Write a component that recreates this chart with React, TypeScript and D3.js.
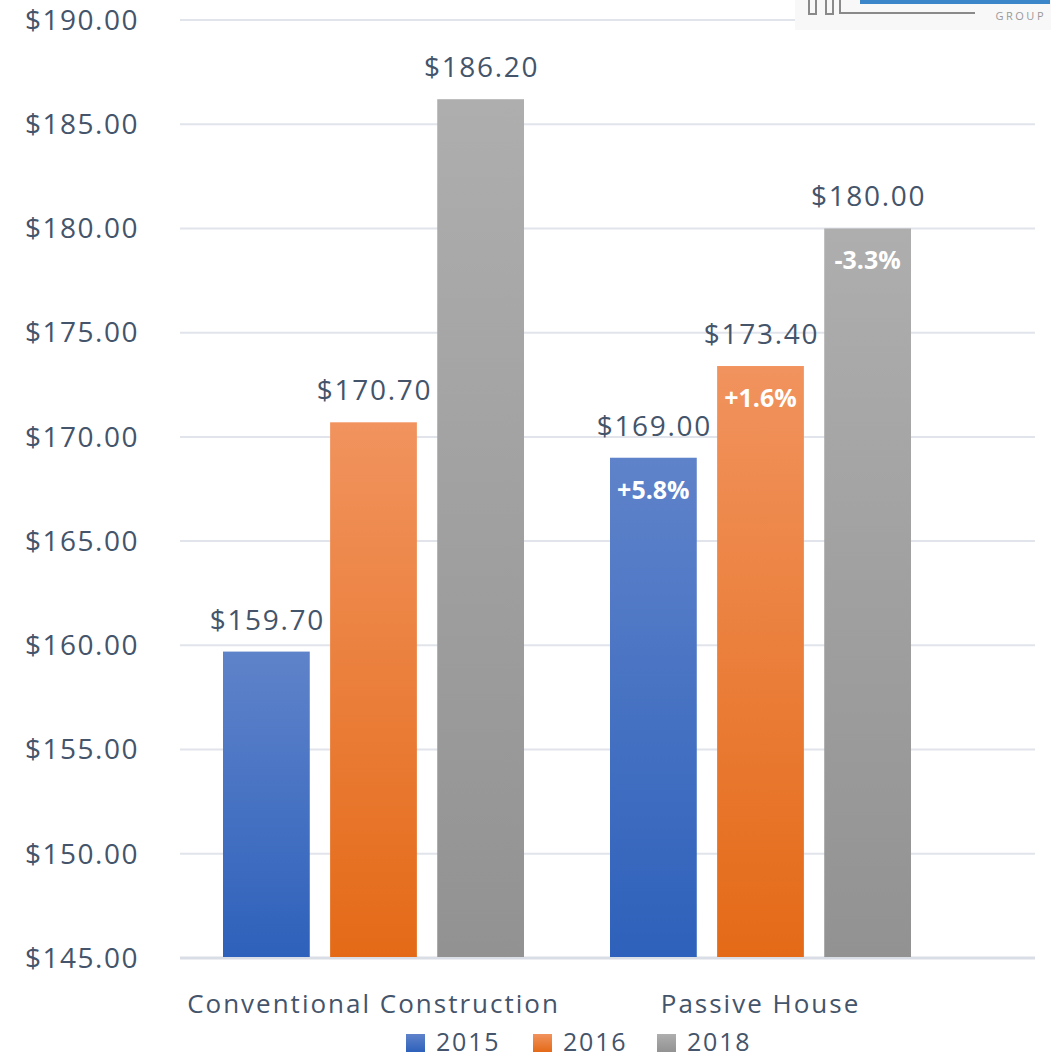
import React, { useRef, useEffect } from "react";
import * as d3 from "d3";

// chart data
const categories = ["Conventional Construction", "Passive House"];
const years = ["2015", "2016", "2018"];
const values2015 = [159.7, 169.0];
const values2016 = [170.7, 173.4];
const values2018 = [186.2, 180.0];
const changes2015 = ["", "+5.8%"];
const changes2016 = ["", "+1.6%"];
const changes2018 = ["", "-3.3%"];
const yTicks = [145, 150, 155, 160, 165, 170, 175, 180, 185, 190];

const seriesValues = [values2015, values2016, values2018];
const seriesChanges = [changes2015, changes2016, changes2018];
const colorsTop = ["#5f83ca", "#f1935e", "#aeaeae"];
const colorsBottom = ["#2e61bb", "#e46a17", "#929292"];

const FONT = "'Open Sans', 'Noto Sans', sans-serif";
const TEXT = "#44546a";

const App = () => {
    const ref = useRef<SVGSVGElement>(null);

    useEffect(() => {
        const svg = d3.select(ref.current);
        svg.selectAll("*").remove();

        const width = 1051;
        const height = 1058;
        const plot = { left: 180, right: 1035, top: 20, bottom: 958 };

        svg.attr("width", width).attr("height", height).style("background", "#fff");

        const defs = svg.append("defs");
        years.forEach((yr, i) => {
            const g = defs.append("linearGradient")
                .attr("id", `grad-${yr}`)
                .attr("x1", 0).attr("y1", 0).attr("x2", 0).attr("y2", 1);
            g.append("stop").attr("offset", "0%").attr("stop-color", colorsTop[i]);
            g.append("stop").attr("offset", "100%").attr("stop-color", colorsBottom[i]);
        });

        const y = d3.scaleLinear().domain([145, 190]).range([plot.bottom, plot.top]);
        const x0 = d3.scaleBand().domain(categories).range([180, 954]);
        const x1 = d3.scaleBand().domain(years).range([43, 344]).paddingInner(0.19);

        // gridlines
        svg.append("g")
            .selectAll("line")
            .data(yTicks)
            .enter()
            .append("line")
            .attr("x1", plot.left)
            .attr("x2", plot.right)
            .attr("y1", d => y(d))
            .attr("y2", d => y(d))
            .attr("stroke", d => (d === 145 ? "#d9dde6" : "#e1e4ea"))
            .attr("stroke-width", d => (d === 145 ? 3 : 2));

        // y axis labels
        svg.append("g")
            .selectAll("text")
            .data(yTicks)
            .enter()
            .append("text")
            .attr("x", 139)
            .attr("y", d => y(d))
            .attr("dy", "0.35em")
            .attr("text-anchor", "end")
            .style("font-family", FONT)
            .style("font-size", "28px")
            .style("letter-spacing", "1.5px")
            .attr("fill", TEXT)
            .text(d => `$${d.toFixed(2)}`);

        // bars
        categories.forEach((cat, ci) => {
            const g = svg.append("g").attr("transform", `translate(${x0(cat)},0)`);
            years.forEach((yr, si) => {
                const v = seriesValues[si][ci];
                const bx = x1(yr)!;
                const bw = x1.bandwidth();
                g.append("rect")
                    .attr("x", bx)
                    .attr("y", y(v))
                    .attr("width", bw)
                    .attr("height", y(145) - y(v) - 1)
                    .attr("fill", `url(#grad-${yr})`);

                g.append("text")
                    .attr("x", bx + bw / 2 + 1)
                    .attr("y", y(v) - 22)
                    .attr("text-anchor", "middle")
                    .style("font-family", FONT)
                    .style("font-size", "28px")
                    .style("letter-spacing", "1.7px")
                    .attr("fill", TEXT)
                    .text(`$${v.toFixed(2)}`);

                const chg = seriesChanges[si][ci];
                if (chg) {
                    g.append("text")
                        .attr("x", bx + bw / 2)
                        .attr("y", y(v) + 41)
                        .attr("text-anchor", "middle")
                        .style("font-family", FONT)
                        .style("font-size", "25px")
                        .style("font-weight", "bold")
                        .attr("fill", "#fff")
                        .text(chg);
                }
            });
        });

        // category labels
        svg.append("g")
            .selectAll("text")
            .data(categories)
            .enter()
            .append("text")
            .attr("x", d => x0(d)! + x0.bandwidth() / 2)
            .attr("y", 1013)
            .attr("text-anchor", "middle")
            .style("font-family", FONT)
            .style("font-size", "26px")
            .style("letter-spacing", "2px")
            .attr("fill", TEXT)
            .text(d => d);

        // legend (sits right at the bottom edge)
        const legendX = [406, 533, 657];
        years.forEach((yr, i) => {
            svg.append("rect")
                .attr("x", legendX[i])
                .attr("y", 1034)
                .attr("width", 19)
                .attr("height", 18)
                .attr("fill", `url(#grad-${yr})`);
            svg.append("text")
                .attr("x", legendX[i] + 30)
                .attr("y", 1051)
                .style("font-family", FONT)
                .style("font-size", "25px")
                .style("letter-spacing", "1.8px")
                .attr("fill", TEXT)
                .text(yr);
        });

        // partial logo, top right corner
        const logo = svg.append("g");
        logo.append("rect")
            .attr("x", 795).attr("y", 0).attr("width", 256).attr("height", 30)
            .attr("fill", "#f8f8f8");
        logo.append("path")
            .attr("d", "M809,0 V14 H816 V0 M826,0 V14 H833 V0 M840,0 V13 H975")
            .attr("fill", "none")
            .attr("stroke", "#8a8a8a")
            .attr("stroke-width", 2);
        logo.append("rect")
            .attr("x", 860).attr("y", 0).attr("width", 190).attr("height", 4)
            .attr("fill", "#3a86c8");
        logo.append("text")
            .attr("x", 1046)
            .attr("y", 20)
            .attr("text-anchor", "end")
            .style("font-family", FONT)
            .style("font-size", "11px")
            .style("letter-spacing", "2.5px")
            .attr("fill", "#999")
            .text("GROUP");
    }, []);

    return (
        <div style={{ position: "absolute", left: 0, top: 0 }}>
            <svg ref={ref}></svg>
        </div>
    );
};

export default App;
